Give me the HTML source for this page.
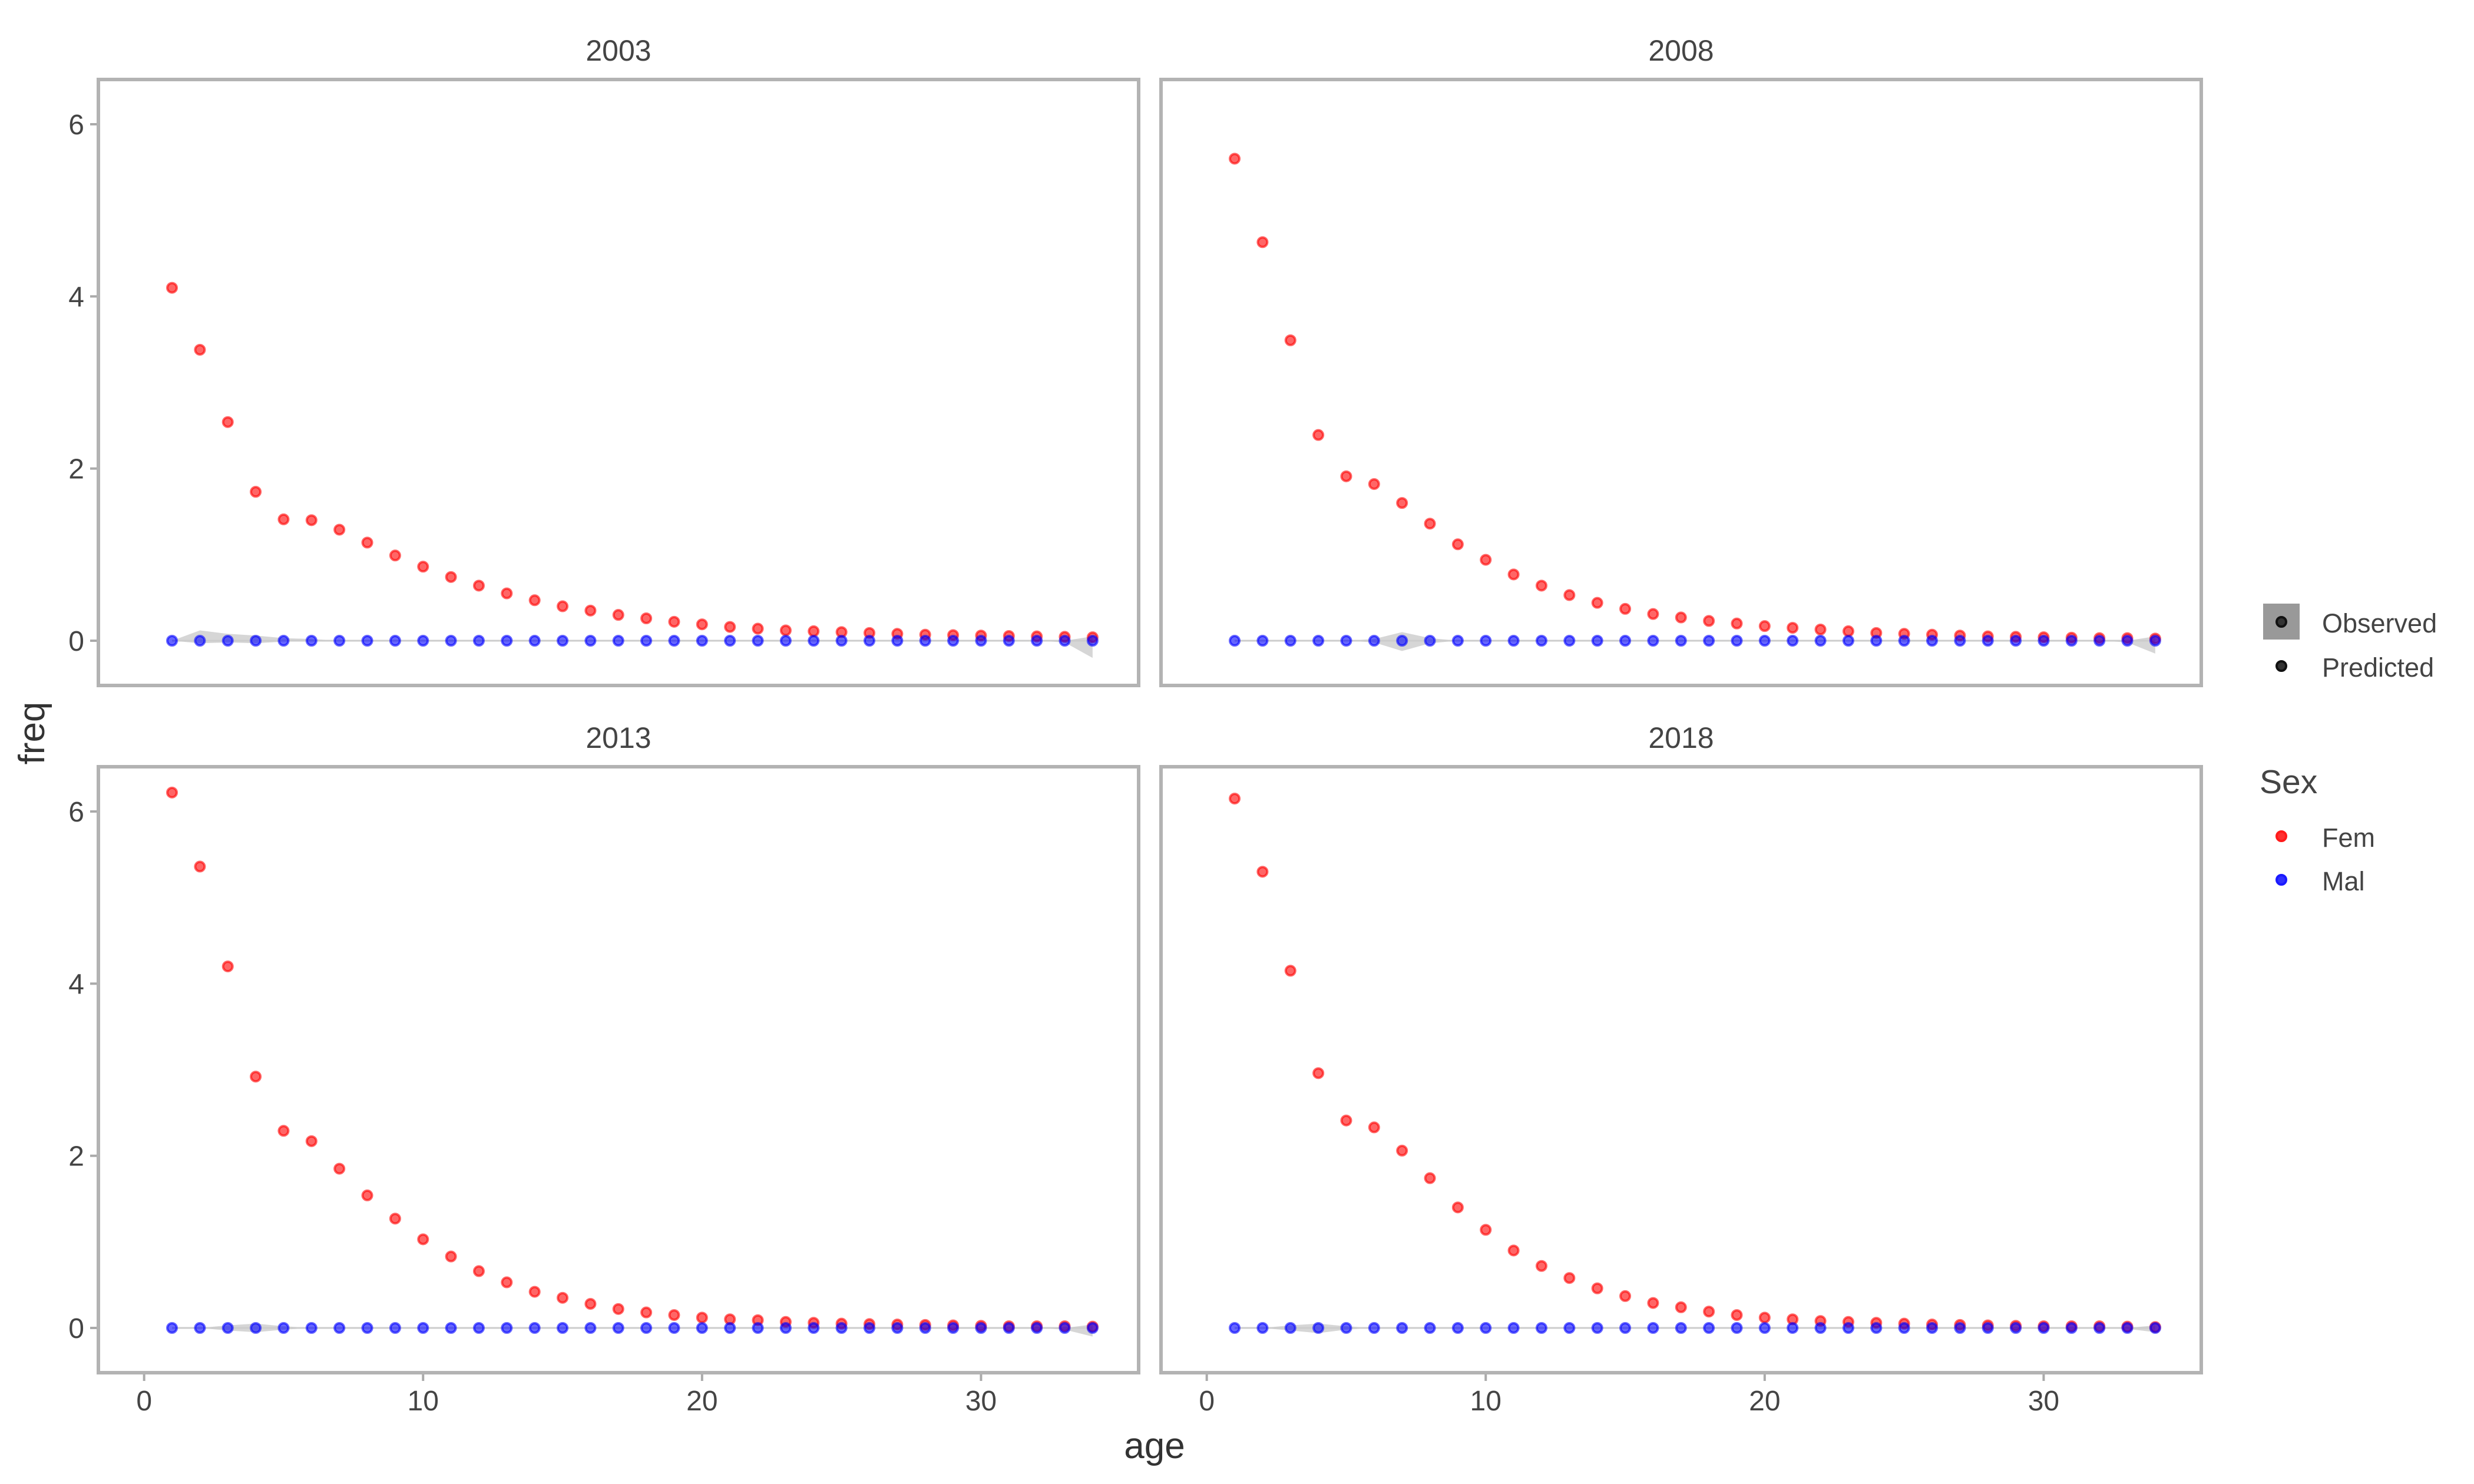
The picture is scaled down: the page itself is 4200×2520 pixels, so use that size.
<!DOCTYPE html>
<html><head><meta charset="utf-8"><title>Age frequency by sex</title>
<style>
html,body{margin:0;padding:0;background:#fff;}
svg{display:block;font-family:"Liberation Sans",Arial,sans-serif;}
</style></head>
<body>
<svg id="chart" width="4200" height="2520" viewBox="0 0 4200 2520" xmlns="http://www.w3.org/2000/svg">
<rect x="0" y="0" width="4200" height="2520" fill="#fff"/>
<text x="0" y="0" transform="translate(75,1245) rotate(-90)" text-anchor="middle" font-size="62" fill="#333">freq</text>
<text x="1960" y="2476" text-anchor="middle" font-size="62" fill="#333">age</text>
<g>
<rect x="3842" y="1025" width="62" height="61" fill="#999"/>
<circle cx="3873" cy="1056" r="8" fill="#333" stroke="#111" stroke-width="4"/>
<text x="3942" y="1074" font-size="45" fill="#444">Observed</text>
<circle cx="3873" cy="1131" r="8" fill="#333" stroke="#111" stroke-width="4"/>
<text x="3942" y="1149" font-size="45" fill="#444">Predicted</text>
</g>
<g>
<text x="3836" y="1347" font-size="57" fill="#444">Sex</text>
<circle cx="3873" cy="1420" r="8" fill="#ff3030" stroke="#ff1a1a" stroke-width="4"/>
<text x="3942" y="1438" font-size="45" fill="#444">Fem</text>
<circle cx="3873" cy="1494" r="8" fill="#3030ff" stroke="#1a1aff" stroke-width="4"/>
<text x="3942" y="1512" font-size="45" fill="#444">Mal</text>
</g>
</svg>
<script>
const years = ["2003","2008","2013","2018"];
const ages = [1,2,3,4,5,6,7,8,9,10,11,12,13,14,15,16,17,18,19,20,21,22,23,24,25,26,27,28,29,30,31,32,33,34];
const fem2003 = [4.10,3.38,2.54,1.73,1.41,1.40,1.29,1.14,0.99,0.86,0.74,0.64,0.55,0.47,0.40,0.35,0.30,0.26,0.22,0.19,0.16,0.14,0.12,0.11,0.10,0.09,0.08,0.07,0.065,0.06,0.055,0.05,0.045,0.04];
const fem2008 = [5.60,4.63,3.49,2.39,1.91,1.82,1.60,1.36,1.12,0.94,0.77,0.64,0.53,0.44,0.37,0.31,0.27,0.23,0.20,0.17,0.15,0.13,0.11,0.09,0.08,0.07,0.06,0.05,0.045,0.04,0.035,0.03,0.03,0.025];
const fem2013 = [6.22,5.36,4.20,2.92,2.29,2.17,1.85,1.54,1.27,1.03,0.83,0.66,0.53,0.42,0.35,0.28,0.22,0.18,0.15,0.12,0.10,0.09,0.07,0.06,0.05,0.045,0.04,0.035,0.03,0.025,0.02,0.02,0.02,0.015];
const fem2018 = [6.15,5.30,4.15,2.96,2.41,2.33,2.06,1.74,1.40,1.14,0.90,0.72,0.58,0.46,0.37,0.29,0.24,0.19,0.15,0.12,0.10,0.08,0.07,0.06,0.05,0.04,0.035,0.03,0.025,0.02,0.02,0.02,0.015,0.01];
const mal2003 = ages.map(()=>0);
const mal2008 = ages.map(()=>0);
const mal2013 = ages.map(()=>0);
const mal2018 = ages.map(()=>0);
const femSeries = [fem2003,fem2008,fem2013,fem2018];
const malSeries = [mal2003,mal2008,mal2013,mal2018];
const ribUp2003 = [0,0.12,0.08,0.06,0.03,0.02,0,0,0,0,0,0,0,0,0,0,0,0,0,0,0,0,0,0,0,0,0,0,0,0,0,0,0,0.05];
const ribLo2003 = [0,-0.03,-0.02,-0.03,-0.01,0,0,0,0,0,0,0,0,0,0,0,0,0,0,0,0,0,0,0,0,0,0,0,0,0,0,0,-0.02,-0.2];
const ribUp2008 = [0,0,0,0,0,0.02,0.1,0.03,0,0,0,0,0,0,0,0,0,0,0,0,0,0,0,0,0,0,0,0,0,0,0,0,0,0.05];
const ribLo2008 = [0,0,0,0,0,-0.02,-0.12,-0.03,0,0,0,0,0,0,0,0,0,0,0,0,0,0,0,0,0,0,0,0,0,0,0,0,-0.02,-0.15];
const ribUp2013 = [0,0,0.03,0.05,0.02,0,0,0,0,0,0,0,0,0,0,0,0,0,0,0,0,0,0,0,0,0,0,0,0,0,0,0,0,0.04];
const ribLo2013 = [0,0,-0.03,-0.05,-0.02,0,0,0,0,0,0,0,0,0,0,0,0,0,0,0,0,0,0,0,0,0,0,0,0,0,0,0,-0.02,-0.1];
const ribUp2018 = [0,0,0.03,0.05,0.02,0,0,0,0,0,0,0,0,0,0,0,0,0,0,0,0,0,0,0,0,0,0,0,0,0,0,0,0,0.03];
const ribLo2018 = [0,0,-0.03,-0.06,-0.02,0,0,0,0,0,0,0,0,0,0,0,0,0,0,0,0,0,0,0,0,0,0,0,0,0,0,0,-0.01,-0.05];
const ribUps = [ribUp2003,ribUp2008,ribUp2013,ribUp2018];
const ribLos = [ribLo2003,ribLo2008,ribLo2013,ribLo2018];
const yTicks = [0,2,4,6];
const xTicks = [0,10,20,30];

const NS = "http://www.w3.org/2000/svg";
const svg = document.getElementById("chart");
function mk(tag, attrs, parent){const e=document.createElementNS(NS,tag);for(const k in attrs)e.setAttribute(k,attrs[k]);(parent||svg).appendChild(e);return e;}

const panelW = 1766, panelH = 1029;
const lefts = [167,1971], tops = [135,1302];
const xMin = -1.64, xMax = 35.65;
const yMin = -0.52, yMax = 6.52;

years.forEach((yr, i) => {
  const col = i % 2, row = Math.floor(i / 2);
  const L = lefts[col], T = tops[row];
  const xs = v => L + (v - xMin) / (xMax - xMin) * panelW;
  const ys = v => T + (yMax - v) / (yMax - yMin) * panelH;
  const g = mk("g", {});
  
  

  const title = mk("text", {x: L + panelW/2, y: T - 32, "text-anchor": "middle", "font-size": 50, fill: "#444"}, g);
  title.textContent = yr;
  
  

  if (col === 0) {
    yTicks.forEach(t => {
      const yy = ys(t);
      mk("line", {x1: L - 14, x2: L, y1: yy, y2: yy, stroke: "#aaa", "stroke-width": 4}, g);
      const tl = mk("text", {x: L - 24, y: yy + 17, "text-anchor": "end", "font-size": 48, fill: "#444"}, g);
      tl.textContent = t;
      
      
    });
  }
  if (row === 1) {
    xTicks.forEach(t => {
      const xx = xs(t);
      mk("line", {x1: xx, x2: xx, y1: T + panelH, y2: T + panelH + 14, stroke: "#aaa", "stroke-width": 4}, g);
      const tl = mk("text", {x: xx, y: T + panelH + 64, "text-anchor": "middle", "font-size": 48, fill: "#444"}, g);
      tl.textContent = t;
      
      
    });
  }

  const up = ribUps[i], lo = ribLos[i];
  let d = "";
  ages.forEach((a, k) => { d += (k ? "L" : "M") + xs(a) + "," + ys(up[k]); });
  for (let k = ages.length - 1; k >= 0; k--) d += "L" + xs(ages[k]) + "," + ys(lo[k]);
  const rib = mk("path", {d: d + "Z", fill: "#bbb", "fill-opacity": 0.6}, g);
  
  

  const pl = mk("path", {d: ages.map((a,k)=>(k?"L":"M")+xs(a)+","+ys(malSeries[i][k])).join(""), fill:"none", stroke:"#ccc", "stroke-width":3}, g);
  
  

  femSeries[i].forEach((v, k) => {
    const c = mk("circle", {cx: xs(ages[k]), cy: ys(v), r: 8, fill: "rgba(255,0,0,0.6)", stroke: "rgba(255,0,0,0.6)", "stroke-width": 4}, g);
    
    
  });
  malSeries[i].forEach((v, k) => {
    const c = mk("circle", {cx: xs(ages[k]), cy: ys(v), r: 8, fill: "rgba(0,0,255,0.6)", stroke: "rgba(0,0,255,0.6)", "stroke-width": 4}, g);
    
    
  });

  const border = mk("rect", {x: L, y: T, width: panelW, height: panelH, fill: "none", stroke: "#b3b3b3", "stroke-width": 6}, g);
  
  
});
</script>
</body></html>
